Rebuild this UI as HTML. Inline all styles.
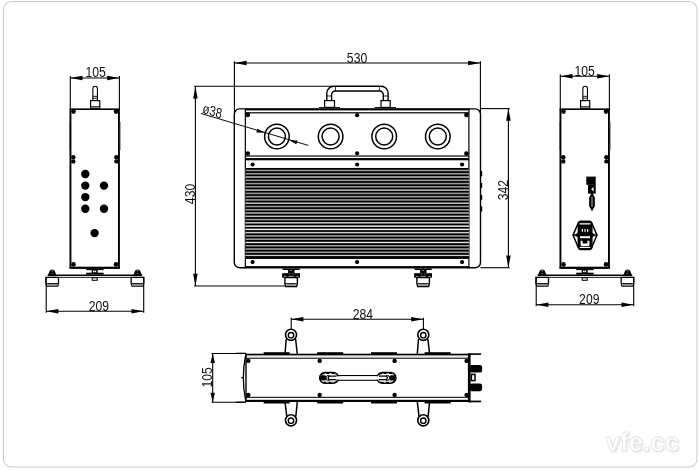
<!DOCTYPE html>
<html lang="en">
<head>
<meta charset="utf-8">
<title>Dimension drawing</title>
<style>
html,body{margin:0;padding:0;background:#fff;}
body{width:700px;height:470px;overflow:hidden;font-family:"Liberation Sans",sans-serif;}
svg{display:block;}
svg text{font-family:"Liberation Sans",sans-serif;}
svg{filter:grayscale(1);}
</style>
</head>
<body>
<svg width="700" height="470" viewBox="0 0 700 470">
<defs><filter id="bl" x="-10%" y="-30%" width="120%" height="160%"><feGaussianBlur stdDeviation="1.1"/></filter></defs>
<rect width="700" height="470" fill="#fff"/>
<rect x="3.50" y="1.50" width="693.50" height="465.50" rx="8" fill="none" stroke="#cbcbcb" stroke-width="1.1" />
<line x1="70.30" y1="76.00" x2="70.30" y2="109.20" stroke="#000" stroke-width="1.1" />
<line x1="119.40" y1="76.00" x2="119.40" y2="109.20" stroke="#000" stroke-width="1.1" />
<line x1="70.30" y1="78.00" x2="119.40" y2="78.00" stroke="#000" stroke-width="1.1" />
<polygon points="70.30,78.00 82.50,75.75 82.50,80.25" fill="#000"/>
<polygon points="119.40,78.00 107.20,80.25 107.20,75.75" fill="#000"/>
<text transform="translate(95.65,77.40) scale(0.85,1)" font-size="14.3" text-anchor="middle" fill="#111" >105</text>
<rect x="69.50" y="108.40" width="50.50" height="1.60" fill="#000"/>
<rect x="69.50" y="266.70" width="50.50" height="2.20" fill="#000"/>
<rect x="69.50" y="109.20" width="1.90" height="158.80" fill="#000"/>
<rect x="118.00" y="109.20" width="1.90" height="158.80" fill="#000"/>
<rect x="69.00" y="122.00" width="0.70" height="28.00" fill="#555"/>
<rect x="119.80" y="122.00" width="0.70" height="28.00" fill="#555"/>
<circle cx="73.50" cy="111.60" r="2.30" fill="#000"/>
<circle cx="73.50" cy="264.40" r="2.30" fill="#000"/>
<circle cx="116.00" cy="111.60" r="2.30" fill="#000"/>
<circle cx="116.00" cy="264.40" r="2.30" fill="#000"/>
<circle cx="73.30" cy="157.20" r="2.20" fill="#000"/>
<circle cx="73.30" cy="161.40" r="2.20" fill="#000"/>
<circle cx="116.40" cy="157.20" r="2.20" fill="#000"/>
<circle cx="116.40" cy="161.40" r="2.20" fill="#000"/>
<path d="M92.85,100.5 V88.60 a2.3,2.3 0 0 1 4.6,0 V100.5" fill="none" stroke="#000" stroke-width="1.1" />
<line x1="92.85" y1="96.30" x2="97.45" y2="96.30" stroke="#000" stroke-width="0.9" />
<line x1="92.85" y1="98.20" x2="97.45" y2="98.20" stroke="#000" stroke-width="0.9" />
<rect x="90.55" y="100.60" width="9.20" height="7.60" rx="0" fill="none" stroke="#000" stroke-width="1.2" />
<line x1="90.55" y1="106.60" x2="99.75" y2="106.60" stroke="#000" stroke-width="0.8" />
<rect x="86.20" y="268.60" width="17.40" height="1.50" fill="#000"/>
<rect x="91.70" y="270.00" width="6.00" height="3.00" fill="#000"/>
<rect x="93.00" y="270.60" width="3.20" height="1.70" fill="#fff"/>
<rect x="94.45" y="270.40" width="0.50" height="2.10" fill="#333"/>
<rect x="86.20" y="272.70" width="17.40" height="1.90" fill="#000"/>
<rect x="47.70" y="274.50" width="94.50" height="1.50" fill="#000"/>
<rect x="46.20" y="276.90" width="97.50" height="0.90" fill="#000"/>
<rect x="92.20" y="277.80" width="5.00" height="2.50" rx="0" fill="#fff" stroke="#000" stroke-width="1.0" />
<path d="M48.00,275 L49.80,270.4 Q52.20,268.4 54.60,270.4 L56.40,275 Z" fill="#000" stroke="#000" stroke-width="0" />
<rect x="51.10" y="270.60" width="2.20" height="0.60" fill="#ddd"/>
<rect x="51.30" y="273.00" width="1.80" height="0.60" fill="#aaa"/>
<path d="M133.40,275 L135.20,270.4 Q137.60,268.4 140.00,270.4 L141.80,275 Z" fill="#000" stroke="#000" stroke-width="0" />
<rect x="136.50" y="270.60" width="2.20" height="0.60" fill="#ddd"/>
<rect x="136.70" y="273.00" width="1.80" height="0.60" fill="#aaa"/>
<path d="M45.90,277.4 H58.50 V283.4 L57.70,286.2 H46.80 L45.90,283.4 Z" fill="#fff" stroke="#000" stroke-width="1.3" />
<rect x="47.50" y="283.90" width="9.60" height="1.70" fill="#8a8a8a"/>
<line x1="46.50" y1="283.50" x2="57.90" y2="283.50" stroke="#000" stroke-width="0.9" />
<path d="M131.20,277.4 H143.80 V283.4 L143.00,286.2 H132.10 L131.20,283.4 Z" fill="#fff" stroke="#000" stroke-width="1.3" />
<rect x="132.80" y="283.90" width="9.60" height="1.70" fill="#8a8a8a"/>
<line x1="131.80" y1="283.50" x2="143.20" y2="283.50" stroke="#000" stroke-width="0.9" />
<line x1="46.20" y1="277.00" x2="46.20" y2="312.70" stroke="#000" stroke-width="1.1" />
<line x1="143.70" y1="277.00" x2="143.70" y2="312.70" stroke="#000" stroke-width="1.1" />
<line x1="46.20" y1="311.20" x2="143.70" y2="311.20" stroke="#000" stroke-width="1.1" />
<polygon points="46.20,311.20 58.40,308.95 58.40,313.45" fill="#000"/>
<polygon points="143.70,311.20 131.50,313.45 131.50,308.95" fill="#000"/>
<text transform="translate(98.85,310.70) scale(0.85,1)" font-size="14.3" text-anchor="middle" fill="#111" >209</text>
<circle cx="85.30" cy="174.00" r="4.20" fill="#000"/>
<circle cx="85.30" cy="185.60" r="4.20" fill="#000"/>
<circle cx="85.30" cy="197.10" r="4.20" fill="#000"/>
<circle cx="85.30" cy="208.70" r="4.20" fill="#000"/>
<circle cx="104.00" cy="185.60" r="4.20" fill="#000"/>
<circle cx="104.00" cy="208.70" r="4.20" fill="#000"/>
<circle cx="94.60" cy="233.10" r="4.20" fill="#000"/>
<line x1="560.30" y1="74.20" x2="560.30" y2="109.20" stroke="#000" stroke-width="1.1" />
<line x1="609.40" y1="74.20" x2="609.40" y2="109.20" stroke="#000" stroke-width="1.1" />
<line x1="560.30" y1="76.20" x2="609.40" y2="76.20" stroke="#000" stroke-width="1.1" />
<polygon points="560.30,76.20 572.50,73.95 572.50,78.45" fill="#000"/>
<polygon points="609.40,76.20 597.20,78.45 597.20,73.95" fill="#000"/>
<text transform="translate(584.55,75.60) scale(0.85,1)" font-size="14.3" text-anchor="middle" fill="#111" >105</text>
<rect x="559.50" y="108.40" width="50.50" height="1.60" fill="#000"/>
<rect x="559.50" y="266.70" width="50.50" height="2.20" fill="#000"/>
<rect x="559.50" y="109.20" width="1.90" height="158.80" fill="#000"/>
<rect x="608.00" y="109.20" width="1.90" height="158.80" fill="#000"/>
<rect x="559.00" y="122.00" width="0.70" height="28.00" fill="#555"/>
<rect x="609.80" y="122.00" width="0.70" height="28.00" fill="#555"/>
<circle cx="563.50" cy="111.60" r="2.30" fill="#000"/>
<circle cx="563.50" cy="264.40" r="2.30" fill="#000"/>
<circle cx="606.00" cy="111.60" r="2.30" fill="#000"/>
<circle cx="606.00" cy="264.40" r="2.30" fill="#000"/>
<circle cx="563.30" cy="157.20" r="2.20" fill="#000"/>
<circle cx="563.30" cy="161.40" r="2.20" fill="#000"/>
<circle cx="606.40" cy="157.20" r="2.20" fill="#000"/>
<circle cx="606.40" cy="161.40" r="2.20" fill="#000"/>
<path d="M582.85,100.5 V88.60 a2.3,2.3 0 0 1 4.6,0 V100.5" fill="none" stroke="#000" stroke-width="1.1" />
<line x1="582.85" y1="96.30" x2="587.45" y2="96.30" stroke="#000" stroke-width="0.9" />
<line x1="582.85" y1="98.20" x2="587.45" y2="98.20" stroke="#000" stroke-width="0.9" />
<rect x="580.55" y="100.60" width="9.20" height="7.60" rx="0" fill="none" stroke="#000" stroke-width="1.2" />
<line x1="580.55" y1="106.60" x2="589.75" y2="106.60" stroke="#000" stroke-width="0.8" />
<rect x="576.20" y="268.60" width="17.40" height="1.50" fill="#000"/>
<rect x="581.70" y="270.00" width="6.00" height="3.00" fill="#000"/>
<rect x="583.00" y="270.60" width="3.20" height="1.70" fill="#fff"/>
<rect x="584.45" y="270.40" width="0.50" height="2.10" fill="#333"/>
<rect x="576.20" y="272.70" width="17.40" height="1.90" fill="#000"/>
<rect x="537.70" y="274.50" width="94.50" height="1.50" fill="#000"/>
<rect x="536.20" y="276.90" width="97.50" height="0.90" fill="#000"/>
<rect x="582.20" y="277.80" width="5.00" height="2.50" rx="0" fill="#fff" stroke="#000" stroke-width="1.0" />
<path d="M538.00,275 L539.80,270.4 Q542.20,268.4 544.60,270.4 L546.40,275 Z" fill="#000" stroke="#000" stroke-width="0" />
<rect x="541.10" y="270.60" width="2.20" height="0.60" fill="#ddd"/>
<rect x="541.30" y="273.00" width="1.80" height="0.60" fill="#aaa"/>
<path d="M623.40,275 L625.20,270.4 Q627.60,268.4 630.00,270.4 L631.80,275 Z" fill="#000" stroke="#000" stroke-width="0" />
<rect x="626.50" y="270.60" width="2.20" height="0.60" fill="#ddd"/>
<rect x="626.70" y="273.00" width="1.80" height="0.60" fill="#aaa"/>
<path d="M535.90,277.4 H548.50 V283.4 L547.70,286.2 H536.80 L535.90,283.4 Z" fill="#fff" stroke="#000" stroke-width="1.3" />
<rect x="537.50" y="283.90" width="9.60" height="1.70" fill="#8a8a8a"/>
<line x1="536.50" y1="283.50" x2="547.90" y2="283.50" stroke="#000" stroke-width="0.9" />
<path d="M621.20,277.4 H633.80 V283.4 L633.00,286.2 H622.10 L621.20,283.4 Z" fill="#fff" stroke="#000" stroke-width="1.3" />
<rect x="622.80" y="283.90" width="9.60" height="1.70" fill="#8a8a8a"/>
<line x1="621.80" y1="283.50" x2="633.20" y2="283.50" stroke="#000" stroke-width="0.9" />
<line x1="536.20" y1="277.00" x2="536.20" y2="306.30" stroke="#000" stroke-width="1.1" />
<line x1="633.70" y1="277.00" x2="633.70" y2="306.30" stroke="#000" stroke-width="1.1" />
<line x1="536.20" y1="304.80" x2="633.70" y2="304.80" stroke="#000" stroke-width="1.1" />
<polygon points="536.20,304.80 548.40,302.55 548.40,307.05" fill="#000"/>
<polygon points="633.70,304.80 621.50,307.05 621.50,302.55" fill="#000"/>
<text transform="translate(589.25,304.30) scale(0.85,1)" font-size="14.3" text-anchor="middle" fill="#111" >209</text>
<rect x="586.30" y="176.60" width="9.40" height="8.20" fill="#000"/>
<rect x="588.00" y="184.60" width="7.70" height="9.10" fill="#000"/>
<path d="M593.6,187 L591.2,189.3 L593.6,191.4 Z" fill="#fff" stroke="#000" stroke-width="0" />
<path d="M592,194.2 L590.1,198 V206 L592,209.3 L593.9,206 V198 Z" fill="#aaa" stroke="#000" stroke-width="1.9" />
<line x1="592.00" y1="198.00" x2="592.00" y2="206.00" stroke="#000" stroke-width="0.8" />
<path d="M578.5,222.5 Q579,221.2 580.5,221.2 H589.5 Q591,221.2 591.5,222.5 L597,235.1 L591.5,248 Q591,249.6 589.5,249.6 H580.5 Q579,249.6 578.5,248 L573,235.1 Z" fill="none" stroke="#000" stroke-width="1.5" />
<rect x="578.30" y="222.20" width="13.60" height="26.40" rx="1.8" fill="#000" stroke="#000" stroke-width="1.4" />
<rect x="579.60" y="223.20" width="10.80" height="1.30" fill="#fff"/>
<rect x="580.00" y="236.20" width="10.00" height="2.00" fill="#fff"/>
<rect x="581.80" y="229.00" width="1.20" height="2.80" fill="#fff"/>
<rect x="584.40" y="229.00" width="1.20" height="2.80" fill="#fff"/>
<rect x="587.00" y="229.00" width="1.20" height="2.80" fill="#fff"/>
<path d="M580.6,240.8 H582.6 V243.4 H587.4 V240.8 H589.4 V245 Q589.4,246.2 588,246.2 H582 Q580.6,246.2 580.6,245 Z" fill="#fff" stroke="#000" stroke-width="0" />
<rect x="579.80" y="247.00" width="10.40" height="1.00" fill="#fff"/>
<path d="M573.6,235.1 L578,233.3 V236.9 Z" fill="#000" stroke="#000" stroke-width="0.5" />
<path d="M596.4,235.1 L592,233.3 V236.9 Z" fill="#000" stroke="#000" stroke-width="0.5" />
<line x1="234.40" y1="61.20" x2="234.40" y2="112.90" stroke="#000" stroke-width="1.1" />
<line x1="480.40" y1="61.20" x2="480.40" y2="112.90" stroke="#000" stroke-width="1.1" />
<line x1="234.40" y1="63.00" x2="480.40" y2="63.00" stroke="#000" stroke-width="1.1" />
<polygon points="234.40,63.00 246.60,60.75 246.60,65.25" fill="#000"/>
<polygon points="480.40,63.00 468.20,65.25 468.20,60.75" fill="#000"/>
<text transform="translate(357.00,62.60) scale(0.85,1)" font-size="14.3" text-anchor="middle" fill="#111" >530</text>
<line x1="195.40" y1="86.30" x2="195.40" y2="286.00" stroke="#000" stroke-width="1.1" />
<polygon points="195.40,86.30 197.65,98.50 193.15,98.50" fill="#000"/>
<polygon points="195.40,286.00 193.15,273.80 197.65,273.80" fill="#000"/>
<line x1="194.00" y1="86.30" x2="332.60" y2="86.30" stroke="#000" stroke-width="1.1" />
<line x1="194.00" y1="286.00" x2="286.50" y2="286.00" stroke="#000" stroke-width="1.1" />
<text transform="translate(195.00,194.00) rotate(-90) scale(0.85,1)" font-size="14.3" text-anchor="middle" fill="#111" >430</text>
<line x1="508.40" y1="108.60" x2="508.40" y2="267.70" stroke="#000" stroke-width="1.1" />
<polygon points="508.40,108.60 510.65,120.80 506.15,120.80" fill="#000"/>
<polygon points="508.40,267.70 506.15,255.50 510.65,255.50" fill="#000"/>
<line x1="480.40" y1="108.60" x2="509.60" y2="108.60" stroke="#000" stroke-width="1.1" />
<line x1="480.40" y1="267.70" x2="509.60" y2="267.70" stroke="#000" stroke-width="1.1" />
<text transform="translate(508.00,190.20) rotate(-90) scale(0.85,1)" font-size="14.3" text-anchor="middle" fill="#111" >342</text>
<path d="M245.6,108.9 H239.6 A5.3,5.3 0 0 0 234.3,114.2 V262.5 A5.3,5.3 0 0 0 239.6,267.8 H245.6" fill="none" stroke="#000" stroke-width="1.4" />
<path d="M468.9,108.9 H475.2 A5.3,5.3 0 0 1 480.5,114.2 V262.5 A5.3,5.3 0 0 1 475.2,267.8 H468.9" fill="none" stroke="#000" stroke-width="1.4" />
<rect x="480.90" y="171.00" width="1.30" height="5.30" fill="#000"/>
<rect x="480.90" y="183.00" width="1.30" height="4.80" fill="#000"/>
<rect x="480.90" y="195.00" width="1.30" height="4.80" fill="#000"/>
<rect x="480.90" y="206.20" width="1.30" height="5.30" fill="#000"/>
<rect x="245.00" y="108.20" width="224.50" height="2.20" fill="#000"/>
<rect x="245.60" y="112.20" width="223.30" height="1.20" fill="#000"/>
<rect x="245.00" y="266.10" width="224.50" height="2.40" fill="#000"/>
<rect x="244.75" y="108.90" width="1.20" height="158.90" fill="#000"/>
<rect x="468.30" y="108.90" width="1.20" height="158.90" fill="#000"/>
<rect x="245.60" y="155.45" width="223.30" height="1.15" fill="#000"/>
<rect x="245.60" y="158.05" width="223.30" height="2.25" fill="#000"/>
<rect x="245.60" y="167.90" width="223.30" height="90.80" fill="#9c9c9c"/>
<rect x="245.60" y="176.18" width="223.30" height="1.70" fill="#c4c4c4"/>
<rect x="245.60" y="189.27" width="223.30" height="1.70" fill="#bcbcbc"/>
<rect x="245.60" y="202.36" width="223.30" height="1.70" fill="#c4c4c4"/>
<rect x="245.60" y="212.17" width="223.30" height="1.70" fill="#b4b4b4"/>
<rect x="245.60" y="215.45" width="223.30" height="1.70" fill="#c0c0c0"/>
<rect x="245.60" y="221.99" width="223.30" height="1.70" fill="#cccccc"/>
<rect x="245.60" y="225.26" width="223.30" height="1.70" fill="#ececec"/>
<rect x="245.60" y="228.54" width="223.30" height="1.70" fill="#f2f2f2"/>
<rect x="245.60" y="231.81" width="223.30" height="1.70" fill="#cccccc"/>
<rect x="245.60" y="241.62" width="223.30" height="1.70" fill="#e4e4e4"/>
<rect x="245.60" y="254.71" width="223.30" height="1.70" fill="#d0d0d0"/>
<rect x="245.60" y="168.00" width="223.30" height="1.70" fill="#000"/>
<rect x="245.60" y="171.27" width="223.30" height="1.70" fill="#000"/>
<rect x="245.60" y="174.54" width="223.30" height="1.70" fill="#000"/>
<rect x="245.60" y="177.82" width="223.30" height="1.70" fill="#000"/>
<rect x="245.60" y="181.09" width="223.30" height="1.70" fill="#000"/>
<rect x="245.60" y="184.36" width="223.30" height="1.70" fill="#000"/>
<rect x="245.60" y="187.63" width="223.30" height="1.70" fill="#000"/>
<rect x="245.60" y="190.91" width="223.30" height="1.70" fill="#000"/>
<rect x="245.60" y="194.18" width="223.30" height="1.70" fill="#000"/>
<rect x="245.60" y="197.45" width="223.30" height="1.70" fill="#000"/>
<rect x="245.60" y="200.72" width="223.30" height="1.70" fill="#000"/>
<rect x="245.60" y="203.99" width="223.30" height="1.70" fill="#000"/>
<rect x="245.60" y="207.27" width="223.30" height="1.70" fill="#000"/>
<rect x="245.60" y="210.54" width="223.30" height="1.70" fill="#000"/>
<rect x="245.60" y="213.81" width="223.30" height="1.70" fill="#000"/>
<rect x="245.60" y="217.08" width="223.30" height="1.70" fill="#000"/>
<rect x="245.60" y="220.36" width="223.30" height="1.70" fill="#000"/>
<rect x="245.60" y="223.63" width="223.30" height="1.70" fill="#000"/>
<rect x="245.60" y="226.90" width="223.30" height="1.70" fill="#000"/>
<rect x="245.60" y="230.17" width="223.30" height="1.70" fill="#000"/>
<rect x="245.60" y="233.44" width="223.30" height="1.70" fill="#000"/>
<rect x="245.60" y="236.72" width="223.30" height="1.70" fill="#000"/>
<rect x="245.60" y="239.99" width="223.30" height="1.70" fill="#000"/>
<rect x="245.60" y="243.26" width="223.30" height="1.70" fill="#000"/>
<rect x="245.60" y="246.53" width="223.30" height="1.70" fill="#000"/>
<rect x="245.60" y="249.81" width="223.30" height="1.70" fill="#000"/>
<rect x="245.60" y="253.08" width="223.30" height="1.70" fill="#000"/>
<rect x="245.60" y="256.35" width="223.30" height="1.70" fill="#000"/>
<rect x="245.60" y="256.30" width="223.30" height="2.60" fill="#000"/>
<circle cx="252.60" cy="164.50" r="2.10" fill="#000"/>
<circle cx="252.60" cy="262.10" r="2.10" fill="#000"/>
<circle cx="357.10" cy="164.50" r="2.10" fill="#000"/>
<circle cx="357.10" cy="262.10" r="2.10" fill="#000"/>
<circle cx="462.10" cy="164.50" r="2.10" fill="#000"/>
<circle cx="462.10" cy="262.10" r="2.10" fill="#000"/>
<circle cx="357.10" cy="115.20" r="2.10" fill="#000"/>
<circle cx="357.10" cy="153.30" r="2.10" fill="#000"/>
<circle cx="247.80" cy="114.90" r="2.30" fill="#000"/>
<circle cx="247.80" cy="153.60" r="2.30" fill="#000"/>
<circle cx="466.40" cy="114.90" r="2.30" fill="#000"/>
<circle cx="466.40" cy="153.60" r="2.30" fill="#000"/>
<circle cx="276.90" cy="136.50" r="12.30" fill="#fff" stroke="#000" stroke-width="1.5"/>
<circle cx="276.90" cy="136.50" r="8.50" fill="#fff" stroke="#000" stroke-width="1.5"/>
<circle cx="330.60" cy="136.50" r="12.30" fill="#fff" stroke="#000" stroke-width="1.5"/>
<circle cx="330.60" cy="136.50" r="8.50" fill="#fff" stroke="#000" stroke-width="1.5"/>
<circle cx="384.20" cy="136.50" r="12.30" fill="#fff" stroke="#000" stroke-width="1.5"/>
<circle cx="384.20" cy="136.50" r="8.50" fill="#fff" stroke="#000" stroke-width="1.5"/>
<circle cx="437.80" cy="136.50" r="12.30" fill="#fff" stroke="#000" stroke-width="1.5"/>
<circle cx="437.80" cy="136.50" r="8.50" fill="#fff" stroke="#000" stroke-width="1.5"/>
<line x1="201.00" y1="113.50" x2="308.30" y2="145.40" stroke="#000" stroke-width="0.95" />
<polygon points="264.53,132.82 256.30,132.46 257.44,128.63" fill="#000"/>
<polygon points="289.27,140.18 297.50,140.54 296.36,144.37" fill="#000"/>
<text transform="translate(202.0,112.8) rotate(16.56) skewX(7) scale(0.84,1)" font-size="13.8" fill="#111">ø38</text>
<path d="M326.8,100.6 V93.3 a7,7 0 0 1 7,-7 H381.1 a7,7 0 0 1 7,7 V100.6" fill="none" stroke="#000" stroke-width="1.4" />
<path d="M331.6,100.6 V94.8 a3.8,3.8 0 0 1 3.8,-3.8 H379.5 a3.8,3.8 0 0 1 3.8,3.8 V100.6" fill="none" stroke="#000" stroke-width="1.4" />
<line x1="335.50" y1="86.30" x2="335.50" y2="91.00" stroke="#000" stroke-width="0.8" />
<line x1="379.40" y1="86.30" x2="379.40" y2="91.00" stroke="#000" stroke-width="0.8" />
<line x1="326.80" y1="96.00" x2="331.60" y2="96.00" stroke="#000" stroke-width="0.8" />
<line x1="383.30" y1="96.00" x2="388.10" y2="96.00" stroke="#000" stroke-width="0.8" />
<rect x="324.60" y="100.60" width="9.90" height="6.80" rx="0" fill="#fff" stroke="#000" stroke-width="1.2" />
<rect x="381.00" y="100.60" width="9.20" height="6.80" rx="0" fill="#fff" stroke="#000" stroke-width="1.2" />
<line x1="319.00" y1="107.60" x2="340.00" y2="107.60" stroke="#000" stroke-width="1.0" />
<line x1="374.60" y1="107.60" x2="396.00" y2="107.60" stroke="#000" stroke-width="1.0" />
<path d="M282.10,268.4 H300.30 L299.40,270.1 H283.00 Z" fill="#000" stroke="#000" stroke-width="0" />
<rect x="288.10" y="270.00" width="6.40" height="3.50" fill="#000"/>
<rect x="290.10" y="270.30" width="2.00" height="0.60" fill="#ddd"/>
<rect x="282.10" y="273.20" width="17.90" height="4.50" fill="#000"/>
<rect x="284.00" y="275.90" width="2.50" height="0.70" fill="#d8d8d8"/>
<rect x="288.40" y="275.90" width="5.50" height="0.70" fill="#d8d8d8"/>
<rect x="296.10" y="275.90" width="2.50" height="0.70" fill="#d8d8d8"/>
<rect x="289.30" y="273.60" width="0.70" height="0.90" fill="#bbb"/>
<rect x="292.50" y="273.60" width="0.70" height="0.90" fill="#bbb"/>
<path d="M284.90,277.6 H297.40 V283.5 L296.60,286.5 H285.70 L284.90,283.5 Z" fill="#fff" stroke="#000" stroke-width="1.4" />
<rect x="286.70" y="284.10" width="8.90" height="1.70" fill="#8a8a8a"/>
<line x1="285.60" y1="283.60" x2="296.70" y2="283.60" stroke="#000" stroke-width="0.9" />
<path d="M414.10,268.4 H432.30 L431.40,270.1 H415.00 Z" fill="#000" stroke="#000" stroke-width="0" />
<rect x="420.10" y="270.00" width="6.40" height="3.50" fill="#000"/>
<rect x="422.10" y="270.30" width="2.00" height="0.60" fill="#ddd"/>
<rect x="414.10" y="273.20" width="17.90" height="4.50" fill="#000"/>
<rect x="416.00" y="275.90" width="2.50" height="0.70" fill="#d8d8d8"/>
<rect x="420.40" y="275.90" width="5.50" height="0.70" fill="#d8d8d8"/>
<rect x="428.10" y="275.90" width="2.50" height="0.70" fill="#d8d8d8"/>
<rect x="421.30" y="273.60" width="0.70" height="0.90" fill="#bbb"/>
<rect x="424.50" y="273.60" width="0.70" height="0.90" fill="#bbb"/>
<path d="M416.90,277.6 H429.40 V283.5 L428.60,286.5 H417.70 L416.90,283.5 Z" fill="#fff" stroke="#000" stroke-width="1.4" />
<rect x="418.70" y="284.10" width="8.90" height="1.70" fill="#8a8a8a"/>
<line x1="417.60" y1="283.60" x2="428.70" y2="283.60" stroke="#000" stroke-width="0.9" />
<line x1="291.20" y1="317.80" x2="291.20" y2="330.00" stroke="#000" stroke-width="1.1" />
<line x1="423.40" y1="317.80" x2="423.40" y2="330.00" stroke="#000" stroke-width="1.1" />
<line x1="291.20" y1="319.30" x2="423.40" y2="319.30" stroke="#000" stroke-width="1.1" />
<polygon points="291.20,319.30 303.40,317.05 303.40,321.55" fill="#000"/>
<polygon points="423.40,319.30 411.20,321.55 411.20,317.05" fill="#000"/>
<text transform="translate(362.80,318.80) scale(0.85,1)" font-size="14.3" text-anchor="middle" fill="#111" >284</text>
<line x1="212.70" y1="353.50" x2="212.70" y2="402.30" stroke="#000" stroke-width="1.1" />
<polygon points="212.70,353.50 214.95,363.10 210.45,363.10" fill="#000"/>
<polygon points="212.70,402.30 210.45,392.70 214.95,392.70" fill="#000"/>
<line x1="211.60" y1="353.50" x2="245.80" y2="353.50" stroke="#000" stroke-width="1.1" />
<line x1="211.60" y1="402.30" x2="245.80" y2="402.30" stroke="#000" stroke-width="1.1" />
<text transform="translate(212.30,377.40) rotate(-90) scale(0.85,1)" font-size="14.3" text-anchor="middle" fill="#111" >105</text>
<line x1="286.20" y1="339.00" x2="285.00" y2="353.80" stroke="#000" stroke-width="1.5" />
<line x1="295.60" y1="339.00" x2="297.30" y2="353.80" stroke="#000" stroke-width="1.5" />
<line x1="286.80" y1="416.60" x2="285.00" y2="402.00" stroke="#000" stroke-width="1.5" />
<line x1="295.80" y1="416.60" x2="297.30" y2="402.00" stroke="#000" stroke-width="1.5" />
<circle cx="291.00" cy="334.80" r="5.55" fill="#fff" stroke="#000" stroke-width="1.6"/>
<circle cx="291.00" cy="335.20" r="2.70" fill="#fff" stroke="#000" stroke-width="1.4"/>
<circle cx="291.00" cy="420.30" r="5.55" fill="#fff" stroke="#000" stroke-width="1.6"/>
<circle cx="291.00" cy="420.70" r="2.70" fill="#fff" stroke="#000" stroke-width="1.4"/>
<line x1="418.50" y1="339.00" x2="417.30" y2="353.80" stroke="#000" stroke-width="1.5" />
<line x1="427.90" y1="339.00" x2="429.60" y2="353.80" stroke="#000" stroke-width="1.5" />
<line x1="419.10" y1="416.60" x2="417.30" y2="402.00" stroke="#000" stroke-width="1.5" />
<line x1="428.10" y1="416.60" x2="429.60" y2="402.00" stroke="#000" stroke-width="1.5" />
<circle cx="423.30" cy="334.80" r="5.55" fill="#fff" stroke="#000" stroke-width="1.6"/>
<circle cx="423.30" cy="335.20" r="2.70" fill="#fff" stroke="#000" stroke-width="1.4"/>
<circle cx="423.30" cy="420.30" r="5.55" fill="#fff" stroke="#000" stroke-width="1.6"/>
<circle cx="423.30" cy="420.70" r="2.70" fill="#fff" stroke="#000" stroke-width="1.4"/>
<rect x="245.20" y="353.70" width="224.20" height="1.90" fill="#000"/>
<rect x="245.80" y="355.60" width="223.00" height="2.00" fill="#ececec"/>
<rect x="245.80" y="357.70" width="223.00" height="1.10" fill="#1a1a1a"/>
<rect x="245.80" y="396.80" width="223.00" height="1.15" fill="#1a1a1a"/>
<rect x="245.20" y="399.80" width="224.20" height="2.20" fill="#000"/>
<rect x="245.30" y="353.70" width="1.40" height="48.30" fill="#000"/>
<rect x="467.90" y="353.70" width="1.40" height="48.30" fill="#000"/>
<path d="M245.5,356 Q241.20000000000002,377.8 245.5,399.6" fill="none" stroke="#000" stroke-width="1.3" />
<line x1="236.00" y1="353.30" x2="245.80" y2="353.30" stroke="#000" stroke-width="1.2" />
<line x1="236.00" y1="402.20" x2="245.80" y2="402.20" stroke="#000" stroke-width="1.2" />
<circle cx="242.20" cy="377.60" r="0.90" fill="#000"/>
<rect x="468.20" y="353.30" width="12.90" height="1.60" fill="#000"/>
<rect x="468.20" y="400.60" width="12.90" height="1.70" fill="#000"/>
<rect x="468.20" y="353.40" width="2.40" height="48.90" fill="#000"/>
<rect x="469.60" y="365.10" width="12.50" height="7.50" rx="2.2" fill="#000" stroke="#000" stroke-width="0" />
<rect x="469.60" y="383.50" width="12.50" height="7.70" rx="2.2" fill="#000" stroke="#000" stroke-width="0" />
<rect x="471.40" y="374.40" width="3.60" height="6.20" rx="0" fill="#fff" stroke="#000" stroke-width="1.5" />
<rect x="263.60" y="352.20" width="26.00" height="1.80" fill="#000"/>
<rect x="263.60" y="401.80" width="26.00" height="1.70" fill="#000"/>
<rect x="317.20" y="352.20" width="26.00" height="1.80" fill="#000"/>
<rect x="317.20" y="401.80" width="26.00" height="1.70" fill="#000"/>
<rect x="371.00" y="352.20" width="26.00" height="1.80" fill="#000"/>
<rect x="371.00" y="401.80" width="26.00" height="1.70" fill="#000"/>
<rect x="424.60" y="352.20" width="26.00" height="1.80" fill="#000"/>
<rect x="424.60" y="401.80" width="26.00" height="1.70" fill="#000"/>
<circle cx="248.30" cy="360.90" r="2.20" fill="#000"/>
<circle cx="248.30" cy="394.90" r="2.20" fill="#000"/>
<circle cx="319.70" cy="360.90" r="2.20" fill="#000"/>
<circle cx="319.70" cy="394.90" r="2.20" fill="#000"/>
<circle cx="394.60" cy="360.90" r="2.20" fill="#000"/>
<circle cx="394.60" cy="394.90" r="2.20" fill="#000"/>
<circle cx="466.60" cy="360.90" r="2.20" fill="#000"/>
<circle cx="466.60" cy="394.90" r="2.20" fill="#000"/>
<rect x="320.00" y="372.90" width="18.20" height="10.00" rx="5.0" fill="#fff" stroke="#000" stroke-width="2.2" />
<rect x="320.60" y="373.60" width="17.00" height="8.60" rx="4.3" fill="none" stroke="#fff" stroke-width="0.8" stroke-dasharray="2.4 3.1" stroke-dashoffset="1.2"/>
<rect x="320.20" y="375.20" width="6.00" height="5.40" rx="1.6" fill="#000" stroke="#000" stroke-width="0" />
<path d="M329.50,375.4 H328.30 Q326.00,375.4 326.00,377.9 Q326.00,380.4 328.30,380.4 H329.50" fill="none" stroke="#000" stroke-width="1.0" />
<path d="M336.60,376.2 H330.20 Q328.20,376.2 328.20,377.9 Q328.20,379.6 330.20,379.6 H336.60" fill="#fff" stroke="#000" stroke-width="1.2" />
<rect x="377.40" y="372.90" width="18.20" height="10.00" rx="5.0" fill="#fff" stroke="#000" stroke-width="2.2" />
<rect x="378.00" y="373.60" width="17.00" height="8.60" rx="4.3" fill="none" stroke="#fff" stroke-width="0.8" stroke-dasharray="2.4 3.1" stroke-dashoffset="1.2"/>
<rect x="389.40" y="375.20" width="6.00" height="5.40" rx="1.6" fill="#000" stroke="#000" stroke-width="0" />
<path d="M386.10,375.4 H387.30 Q389.60,375.4 389.60,377.9 Q389.60,380.4 387.30,380.4 H386.10" fill="none" stroke="#000" stroke-width="1.0" />
<path d="M379.00,376.2 H385.40 Q387.40,376.2 387.40,377.9 Q387.40,379.6 385.40,379.6 H379.00" fill="#fff" stroke="#000" stroke-width="1.2" />
<rect x="337.60" y="375.00" width="40.40" height="1.30" fill="#000"/>
<rect x="337.60" y="379.50" width="40.40" height="1.30" fill="#000"/>
<rect x="336.60" y="376.30" width="42.40" height="3.20" fill="#fff"/>
<g font-weight="bold" font-size="26" text-anchor="middle" style="font-family:'Liberation Sans',sans-serif"><text x="643.4" y="452.0" fill="#d6d6d6" filter="url(#bl)">vfe.cc</text><text x="642.4" y="450.8" fill="#fff" stroke="#e6e6e6" stroke-width="0.8">vfe.cc</text></g>
</svg>
</body>
</html>
